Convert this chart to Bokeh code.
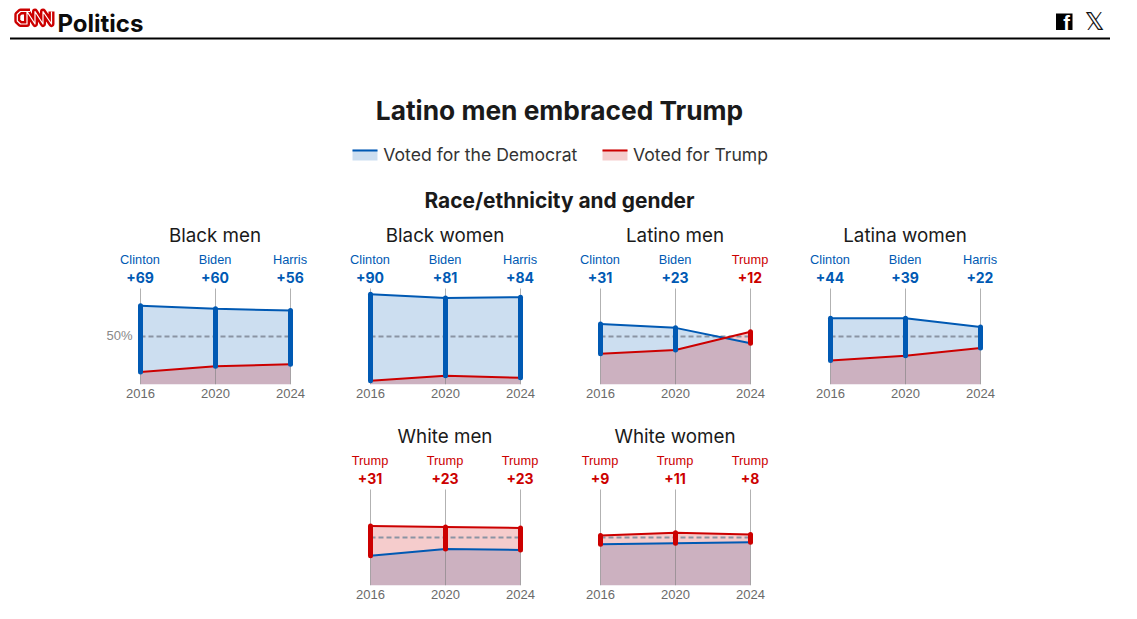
from bokeh.plotting import figure
from bokeh.layouts import column, row, Spacer
from bokeh.models import Range1d, FixedTicker, Label, ColumnDataSource
from bokeh.core.properties import value
from bokeh.embed import file_html
from bokeh.resources import INLINE

years = [2016, 2020, 2024]
group_names = ["Black men", "Black women", "Latino men", "Latina women", "White men", "White women"]
dem_share = [[82, 79, 77], [94, 90, 91], [63, 59, 43], [69, 69, 60], [31, 38, 37], [43, 44, 45]]
rep_share = [[13, 19, 21], [4, 9, 7], [32, 36, 55], [25, 30, 38], [62, 61, 60], [52, 55, 53]]
candidates = [["Clinton", "Biden", "Harris"], ["Clinton", "Biden", "Harris"],
              ["Clinton", "Biden", "Trump"], ["Clinton", "Biden", "Harris"],
              ["Trump", "Trump", "Trump"], ["Trump", "Trump", "Trump"]]
margins = [["+69", "+60", "+56"], ["+90", "+81", "+84"], ["+31", "+23", "+12"],
           ["+44", "+39", "+22"], ["+31", "+23", "+23"], ["+9", "+11", "+8"]]

BLUE = "#0059b3"
RED = "#cc0000"
SANS = "Inter"
ARIAL = "Liberation Sans"
PW = 230
FRAME_H = 166
PX_PER_YEAR = 18.75
PX_PER_PCT = 0.96
LEFT_PAD = 60


def panel(i, bottom):
    p = figure(width=PW, height=FRAME_H + bottom, output_backend="svg", toolbar_location=None,
               x_range=Range1d(years[0] - LEFT_PAD / PX_PER_YEAR, years[0] + (PW - LEFT_PAD) / PX_PER_YEAR),
               y_range=Range1d(0, FRAME_H / PX_PER_PCT),
               min_border=0, min_border_bottom=bottom, min_border_left=0, min_border_right=0, min_border_top=0)
    p.outline_line_color = None
    p.grid.visible = False
    p.yaxis.visible = False
    ax = p.xaxis[0]
    ax.ticker = FixedTicker(ticks=years)
    ax.axis_line_color = None
    ax.major_tick_line_color = None
    ax.minor_tick_line_color = None
    ax.major_tick_out = 0
    ax.minor_tick_out = 0
    ax.major_label_text_font = ARIAL
    ax.major_label_text_font_size = "13px"
    ax.major_label_text_color = "#6a6a6a"
    ax.major_label_standoff = 4

    dem, rep = dem_share[i], rep_share[i]
    p.varea(x=years, y1=[0, 0, 0], y2=dem, fill_color=BLUE, fill_alpha=0.2)
    p.varea(x=years, y1=[0, 0, 0], y2=rep, fill_color=RED, fill_alpha=0.2)
    p.segment(x0=years, x1=years, y0=[0, 0, 0], y1=[100, 100, 100], line_color="#7f7f7f",
              line_alpha=0.6, line_width=1)
    p.line(x=[years[0], years[-1]], y=[50, 50], line_color="#8a94a3", line_width=1.8, line_dash="5 3")
    p.line(x=years, y=dem, line_color=BLUE, line_width=2)
    p.line(x=years, y=rep, line_color=RED, line_width=2)

    winner = [BLUE if d > r else RED for d, r in zip(dem, rep)]
    p.segment(x0=years, x1=years, y0=rep, y1=dem, line_color=winner, line_width=5, line_cap="round")

    src = ColumnDataSource(dict(x=years, y=[100, 100, 100], name=candidates[i], m=margins[i], c=winner))
    p.text(x="x", y="y", text="name", source=src, text_color="c", text_align="center",
           text_baseline="middle", x_offset=-0.5, y_offset=-29, text_font=value(ARIAL), text_font_size="12.8px")
    p.text(x="x", y="y", text="m", source=src, text_color="c", text_align="center",
           text_baseline="middle", x_offset=-0.5, y_offset=-11, text_font=value(SANS), text_font_size="14px",
           text_font_style="bold")
    p.text(x=[years[1]], y=[100], text=[group_names[i]], text_color="#1a1a1a", text_align="center",
           text_baseline="middle", x_offset=-0.5, y_offset=-53, text_font=value(SANS), text_font_size="18.8px")
    if i == 0:
        p.text(x=[years[0]], y=[50], text=["50%"], text_color="#888888", text_align="right",
               text_baseline="middle", x_offset=-8, y_offset=-1, text_font=value(ARIAL),
               text_font_size="13px")
    return p


header = figure(width=1121, height=218, output_backend="svg", toolbar_location=None,
                x_range=Range1d(0, 1121), y_range=Range1d(218, 0), min_border=0)
header.outline_line_color = None
header.grid.visible = False
header.axis.visible = False

header.line(x=[9.5, 1109.5], y=[38, 38], line_color="#000000", line_width=2)


def lab(x, y, t, size, color, font=SANS, style="normal", align="left"):
    header.add_layout(Label(x=x, y=y, text=t, text_font=font, text_font_size=f"{size}px",
                            text_color=color, text_font_style=style, text_align=align,
                            text_baseline="middle"))


lab(57, 23, "Politics", 24, "#0c0c0c", SANS, "bold")
header.quad(left=[1055.5], right=[1072], top=[13], bottom=[29.5], fill_color="#000000", line_color=None)
lab(1066, 22.5, "f", 20, "#ffffff", ARIAL, "bold", "center")
lab(1094, 20.5, "𝕏", 25, "#111111", "DejaVu Sans", "normal", "center")

# CNN wordmark drawn as a red stroke with a white inner stripe
logo_x = [29.5, 20, 16.8, 16.8, 20, 26.5, 26.5, 34.5, 34.5, 42.5, 42.5, 51, 51]
logo_y = [11, 11, 14, 20.5, 23.5, 23.5, 11, 23.5, 11, 23.5, 11, 23.5, 11]
header.line(x=logo_x, y=logo_y, line_color=RED, line_width=6, line_join="round")
header.line(x=logo_x, y=logo_y, line_color="#ffffff", line_width=1.2, line_join="round")

lab(559, 109.5, "Latino men embraced Trump", 26.3, "#1a1a1a", SANS, "bold", "center")
lab(559, 199.5, "Race/ethnicity and gender", 20.9, "#1a1a1a", SANS, "bold", "center")
lab(382.8, 153.5, "Voted for the Democrat", 17.6, "#333333")
lab(632.5, 153.5, "Voted for Trump", 17.6, "#333333")

for x0, col in ((352, BLUE), (602, RED)):
    header.quad(left=[x0], right=[x0 + 25], top=[149], bottom=[160], fill_color=col, fill_alpha=0.2, line_color=None)
    header.quad(left=[x0], right=[x0 + 25], top=[149], bottom=[151], fill_color=col, line_color=None)

row1 = row(Spacer(width=80, height=201), *[panel(i, 35) for i in range(4)], spacing=0)
row2 = row(Spacer(width=310, height=191), *[panel(i, 25) for i in range(4, 6)], spacing=0)
page = column(header, row1, row2, spacing=0)

open("out.html", "w").write(file_html(page, INLINE))
